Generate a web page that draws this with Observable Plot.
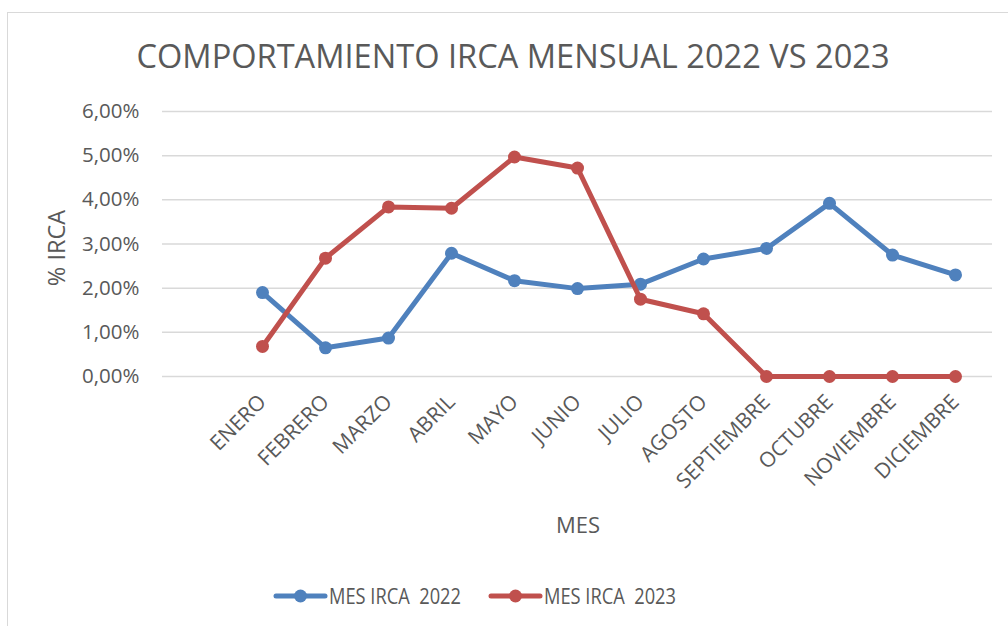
<!DOCTYPE html>
<html><head><meta charset="utf-8">
<script src="https://cdn.jsdelivr.net/npm/d3@7"></script>
<script src="https://cdn.jsdelivr.net/npm/@observablehq/plot@0.6"></script>
<style>
body{margin:0;background:#fff;}
#chart{position:relative;width:1008px;height:626px;overflow:hidden;background:#fff;}
#frame{position:absolute;left:7px;top:12px;width:1100px;height:700px;border:1.5px solid #d9d9d9;box-sizing:border-box;}
#chart svg{position:absolute;left:0;top:0;}
</style></head><body><div id="chart"><div id="frame"></div></div>
<script>
const months = ["ENERO","FEBRERO","MARZO","ABRIL","MAYO","JUNIO","JULIO","AGOSTO","SEPTIEMBRE","OCTUBRE","NOVIEMBRE","DICIEMBRE"];
const irca2022 = [1.90,0.65,0.87,2.79,2.17,1.99,2.09,2.66,2.90,3.92,2.75,2.30];
const irca2023 = [0.68,2.68,3.84,3.81,4.97,4.72,1.75,1.42,0,0,0,0];
const seriesNames = ["MES IRCA  2022","MES IRCA  2023"];
const seriesColors = ["#4F81BD","#C0504D"];
const yTicks = [0,1,2,3,4,5,6];
const titleText = "COMPORTAMIENTO IRCA MENSUAL 2022 VS 2023";
const xLabel = "MES";
const yLabel = "% IRCA";

const xDomain = [" ", ...months];
const seriesValues = [irca2022, irca2023];
const data = seriesNames.map((s, k) => months.map((m, i) => ({month: m, value: seriesValues[k][i], series: s})));

const marks = [
  Plot.ruleY(yTicks, {stroke: "#d9d9d9", strokeWidth: 1.5}),
  Plot.axisY({ticks: yTicks, tickFormat: d => d.toFixed(2).replace(".", ",") + "%", tickSize: 0, tickPadding: 23, fontSize: 20.5, label: null}),
  Plot.axisX({tickRotate: -45, tickSize: 0, tickPadding: 22, fontSize: 21, label: null})
];
data.forEach(d => {
  marks.push(Plot.line(d, {x: "month", y: "value", stroke: "series", strokeWidth: 5, strokeLinejoin: "round", strokeLinecap: "round"}));
  marks.push(Plot.dot(d, {x: "month", y: "value", fill: "series", r: 6.5}));
});

const svgEl = Plot.plot({
  width: 1008, height: 626,
  marginTop: 111, marginBottom: 250, marginLeft: 162, marginRight: 16,
  style: {fontFamily: "'Open Sans', sans-serif", color: "#595959", background: "transparent", overflow: "visible"},
  x: {type: "point", domain: xDomain, padding: 0.5, label: null},
  y: {domain: [0, 6], label: null},
  color: {domain: seriesNames, range: seriesColors},
  marks
});
document.getElementById("chart").appendChild(svgEl);

const svg = d3.select(svgEl);
const g = svg.append("g").attr("font-family", "'Open Sans', sans-serif").attr("fill", "#595959");
g.append("text").attr("x", 513).attr("y", 68).attr("text-anchor", "middle").attr("font-size", 32)
  .attr("textLength", 753).attr("lengthAdjust", "spacingAndGlyphs").text(titleText);
g.append("text").attr("x", 578).attr("y", 533).attr("text-anchor", "middle").attr("font-size", 22).text(xLabel);
g.append("text").attr("transform", "translate(65,248) rotate(-90)").attr("text-anchor", "middle").attr("font-size", 23.5).text(yLabel);

const legendX = [276, 491];
seriesNames.forEach((s, k) => {
  const lg = g.append("g").attr("transform", `translate(${legendX[k]},596)`);
  lg.append("line").attr("x1", 0).attr("x2", 49).attr("stroke", seriesColors[k]).attr("stroke-width", 5).attr("stroke-linecap", "round");
  lg.append("circle").attr("cx", 24.5).attr("r", 6.5).attr("fill", seriesColors[k]);
  lg.append("text").attr("x", 53).attr("y", 7.5).attr("text-anchor", "start").attr("font-size", 21)
    .attr("textLength", 132).attr("lengthAdjust", "spacingAndGlyphs").style("white-space", "pre").text(s);
});
</script></body></html>
